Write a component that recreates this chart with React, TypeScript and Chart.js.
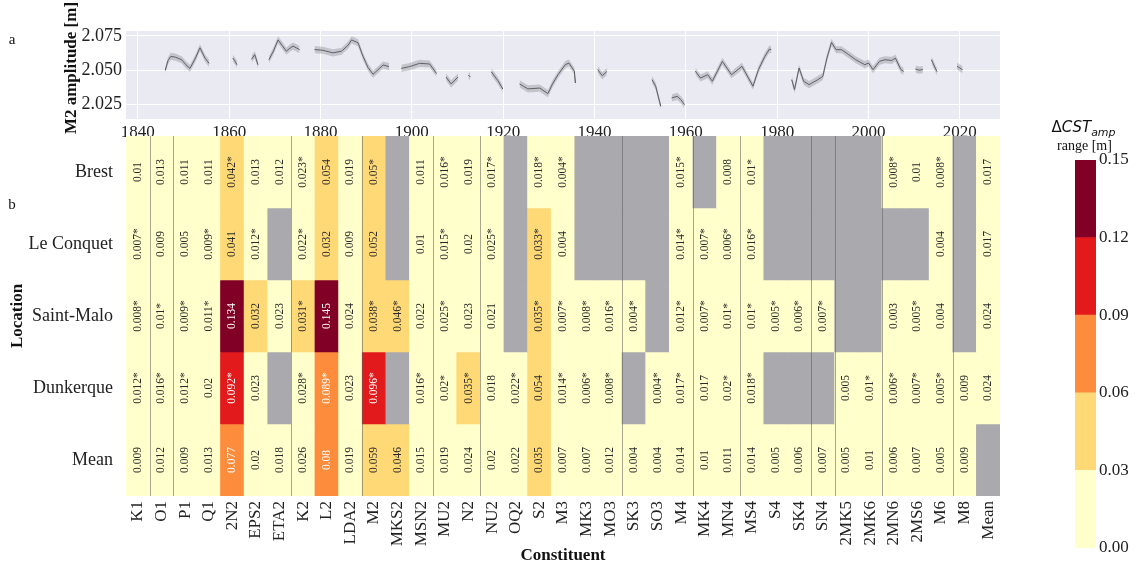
import React, { useEffect, useRef } from "react";
import { Chart, registerables } from "chart.js";
Chart.register(...registerables);

// ---------------- DATA ----------------
const constituents = ["K1","O1","P1","Q1","2N2","EPS2","ETA2","K2","L2","LDA2","M2","MKS2","MSN2","MU2","N2","NU2","OQ2","S2","M3","MK3","MO3","SK3","SO3","M4","MK4","MN4","MS4","S4","SK4","SN4","2MK5","2MK6","2MN6","2MS6","M6","M8","Mean"];
const locations = ["Brest", "Le Conquet", "Saint-Malo", "Dunkerque", "Mean"];

const brestVals = [0.01,0.013,0.011,0.011,0.042,0.013,0.012,0.023,0.054,0.019,0.05,null,0.011,0.016,0.019,0.017,null,0.018,0.004,null,null,null,null,0.015,null,0.008,0.01,null,null,null,null,null,0.008,0.01,0.008,null,0.017];
const brestSig  = [0,0,0,0,1,0,0,1,0,0,1,0,0,1,0,1,0,1,1,0,0,0,0,1,0,0,1,0,0,0,0,0,1,0,1,0,0];

const conquetVals = [0.007,0.009,0.005,0.009,0.041,0.012,null,0.022,0.032,0.009,0.052,null,0.01,0.015,0.02,0.025,null,0.033,0.004,null,null,null,null,0.014,0.007,0.006,0.016,null,null,null,null,null,null,null,0.004,null,0.017];
const conquetSig  = [1,0,0,1,0,1,0,1,0,0,0,0,0,1,0,1,0,1,0,0,0,0,0,1,1,1,1,0,0,0,0,0,0,0,0,0,0];

const maloVals = [0.008,0.01,0.009,0.011,0.134,0.032,0.023,0.031,0.145,0.024,0.038,0.046,0.022,0.025,0.023,0.021,null,0.035,0.007,0.008,0.016,0.004,null,0.012,0.007,0.01,0.01,0.005,0.006,0.007,null,null,0.003,0.005,0.004,null,0.024];
const maloSig  = [1,1,1,1,0,0,0,1,0,0,1,1,0,1,0,0,0,1,1,1,1,1,0,1,1,1,1,1,1,1,0,0,0,1,0,0,0];

const dunkVals = [0.012,0.016,0.012,0.02,0.092,0.023,null,0.028,0.089,0.023,0.096,null,0.016,0.02,0.035,0.018,0.022,0.054,0.014,0.006,0.008,null,0.004,0.017,0.017,0.02,0.018,null,null,null,0.005,0.01,0.006,0.007,0.005,0.009,0.024];
const dunkSig  = [1,1,1,0,1,0,0,1,1,0,1,0,1,1,1,0,1,0,1,1,1,0,1,1,0,1,1,0,0,0,0,1,1,1,1,0,0];

const meanVals = [0.009,0.012,0.009,0.013,0.077,0.02,0.018,0.026,0.08,0.019,0.059,0.046,0.015,0.019,0.024,0.02,0.022,0.035,0.007,0.007,0.012,0.004,0.004,0.014,0.01,0.011,0.014,0.005,0.006,0.007,0.005,0.01,0.006,0.007,0.005,0.009,null];
const meanSig  = [0,0,0,0,0,0,0,0,0,0,0,0,0,0,0,0,0,0,0,0,0,0,0,0,0,0,0,0,0,0,0,0,0,0,0,0,0];

// M2 amplitude time series (null = gap)
const ampYears = [
  1846.0,1846.6,1847.2,1848.2,1849.6,1850.5,1851.4,1852.5,1853.6,1854.7,1855.6, 1858,
  1860.8,1861.3,1861.7, 1863,
  1864.9,1865.6,1866.3, 1867.5,
  1868.7,1869.7,1870.7,1871.6,1872.5,1873.3,1874.0,1875.4, 1877,
  1878.7,1880.5,1882.7,1884.6,1886.0,1886.8,1888.2,1889.3,1890.4,1891.5,1893.7,1895.0, 1896.5,
  1897.7,1899.5,1901.7,1903.9,1905.4, 1906.5,
  1907.5,1908.6,1910.1, 1911.3,
  1912.4,1912.8, 1915,
  1917.4,1918.8,1919.9, 1921.5,
  1923.6,1925.4,1928.0,1929.8,1930.8,1932.0,1933.6,1934.4,1935.6,1935.8, 1938,
  1940.7,1941.7,1942.7, 1947,
  1952.6,1953.4,1954.5, 1955.7,
  1956.9,1958.1,1958.9,1959.7, 1961,
  1962.1,1963.2,1964.8,1965.8,1968.0,1970.0,1972.3,1974.7,1975.9,1977.3,1978.3,1978.7, 1981,
  1983.2,1983.8,1984.8,1985.8,1987.0,1988.9,1990.0,1990.9,1991.9,1992.9,1994.1,1995.7,1997.2,1999.2,2000.0,2001.0,2002.4,2003.6,2005.1,2005.9,2007.1,2007.7, 2009,
  2010.3,2011.1,2011.9, 2013,
  2013.8,2014.4,2015.0, 2017,
  2019.4,2020.6
];
const ampValues = [
  2.050,2.057,2.060,2.0595,2.0576,2.054,2.0513,2.058,2.0663,2.0588,2.055, null,
  2.0588,2.0565,2.054, null,
  2.058,2.0613,2.054, null,
  2.0576,2.064,2.072,2.068,2.0638,2.066,2.0675,2.065, null,
  2.065,2.0645,2.0626,2.0638,2.068,2.072,2.070,2.0601,2.052,2.047,2.0538,2.0526, null,
  2.0513,2.0526,2.055,2.0545,2.0476, null,
  2.045,2.040,2.045, null,
  2.0465,2.045, null,
  2.0488,2.0426,2.0364, null,
  2.040,2.0364,2.037,2.033,2.040,2.0467,2.054,2.0552,2.0492,2.0407, null,
  2.0504,2.046,2.049, null,
  2.0431,2.0383,2.0238, null,
  2.0298,2.031,2.0286,2.025, null,
  2.0492,2.0443,2.0467,2.042,2.0564,2.0467,2.0528,2.0383,2.0504,2.060,2.0653,2.065, null,
  2.0431,2.0359,2.0516,2.0419,2.0395,2.0431,2.0455,2.0588,2.0702,2.0649,2.0649,2.0612,2.0576,2.054,2.0552,2.0504,2.0564,2.0576,2.0571,2.0588,2.0504,2.0492, null,
  2.0508,2.0500,2.0504, null,
  2.0576,2.053,2.049, null,
  2.0528,2.0504
];
const ampBandHalf = 0.0026;

const yearTicks = [1840, 1860, 1880, 1900, 1920, 1940, 1960, 1980, 2000, 2020];
const ampTicks = [2.025, 2.05, 2.075];
const colorbarTicks = [0, 0.03, 0.06, 0.09, 0.12, 0.15];
const binColors = ["#ffffcc", "#fed976", "#fd8d3c", "#e31a1c", "#800026"];
const missingColor = "#a9a9ae";

// ---------------- LAYOUT ----------------
const W = 1136, H = 569;
const PLOT_L = 126, PLOT_R = 1000;
const TOP_T = 31, TOP_B = 119;
const HM_T = 136, HM_B = 496;
const CB_L = 1075, CB_R = 1096, CB_T = 160, CB_B = 548;
const SERIF = '"Liberation Serif", "Times New Roman", serif';
const SANS = '"DejaVu Sans", sans-serif';
const separatorAfter = [0, 1, 6, 9, 12, 14, 20, 23, 25, 28, 29, 31, 34];

const rowVals = [brestVals, conquetVals, maloVals, dunkVals, meanVals];
const rowSig = [brestSig, conquetSig, maloSig, dunkSig, meanSig];

function cellColor(v: number | null) {
  if (v == null) return missingColor;
  for (let i = 0; i < binColors.length; i++) {
    if (v < colorbarTicks[i + 1]) return binColors[i];
  }
  return binColors[binColors.length - 1];
}

export default function App() {
  const topRef = useRef<HTMLCanvasElement>(null);
  const hmRef = useRef<HTMLCanvasElement>(null);
  const cbRef = useRef<HTMLCanvasElement>(null);

  useEffect(() => {
    const charts: Chart[] = [];

    // ---------- Top panel ----------
    const line = ampYears.map((x, i) => ({ x, y: ampValues[i] }));
    const lower = ampYears.map((x, i) => ({ x, y: ampValues[i] == null ? null : (ampValues[i] as number) - ampBandHalf }));
    const upper = ampYears.map((x, i) => ({ x, y: ampValues[i] == null ? null : (ampValues[i] as number) + ampBandHalf }));

    const topPlugin = {
      id: "topDecor",
      beforeDraw(chart: any) {
        const { ctx, chartArea: a } = chart;
        ctx.save();
        ctx.fillStyle = "#eaeaf2";
        ctx.fillRect(a.left, a.top, a.right - a.left, a.bottom - a.top);
        ctx.restore();
      },
      afterDraw(chart: any) {
        const { ctx } = chart;
        ctx.save();
        ctx.fillStyle = "#111";
        ctx.font = `15px ${SERIF}`;
        ctx.textAlign = "center";
        ctx.textBaseline = "middle";
        ctx.fillText("a", 12, 40);
        ctx.font = `bold 17px ${SERIF}`;
        ctx.translate(72, 68);
        ctx.rotate(-Math.PI / 2);
        ctx.fillText("M2 amplitude [m]", 0, 0);
        ctx.restore();
      },
    };

    charts.push(
      new Chart(topRef.current!, {
        type: "line",
        data: {
          datasets: [
            { data: lower as any, borderWidth: 0, pointRadius: 0, fill: false, spanGaps: false, borderColor: "rgba(0,0,0,0)" },
            { data: upper as any, borderWidth: 0, pointRadius: 0, fill: "-1", spanGaps: false, borderColor: "rgba(0,0,0,0)", backgroundColor: "rgba(150,150,160,0.45)" },
            { data: line as any, borderWidth: 1, pointRadius: 0, fill: false, spanGaps: false, borderColor: "#333333" },
          ],
        },
        options: {
          responsive: false,
          animation: false,
          layout: { padding: { left: 0, top: TOP_T, right: W - PLOT_R, bottom: 0 } },
          plugins: { legend: { display: false }, tooltip: { enabled: false } },
          scales: {
            x: {
              type: "linear",
              min: 1837.4,
              max: 2028.8,
              grid: { color: "#ffffff", lineWidth: 1, drawTicks: false },
              border: { display: false },
              ticks: { font: { family: SERIF, size: 17 }, color: "#222", padding: 3, callback: (v: any) => String(v) },
              afterBuildTicks: (s: any) => { s.ticks = yearTicks.map((v) => ({ value: v })); },
              afterFit: (s: any) => { s.height = H - TOP_B; },
            },
            y: {
              min: 2.0145,
              max: 2.0785,
              grid: { color: "#ffffff", lineWidth: 1, drawTicks: false },
              border: { display: false },
              ticks: { font: { family: SERIF, size: 18 }, color: "#222", padding: 4, callback: (v: any) => Number(v).toFixed(3) },
              afterBuildTicks: (s: any) => { s.ticks = ampTicks.map((v) => ({ value: v })); },
              afterFit: (s: any) => { s.width = PLOT_L; },
            },
          },
        },
        plugins: [topPlugin],
      })
    );

    // ---------- Heatmap ----------
    const hmPlugin = {
      id: "hmDecor",
      afterDatasetsDraw(chart: any) {
        const { ctx, chartArea: a } = chart;
        ctx.save();
        ctx.font = `11.5px ${SERIF}`;
        ctx.textAlign = "center";
        ctx.textBaseline = "middle";
        rowVals.forEach((vals, r) => {
          const meta = chart.getDatasetMeta(r);
          meta.data.forEach((bar: any, i: number) => {
            const v = vals[i];
            if (v == null) return;
            const txt = String(v) + (rowSig[r][i] ? "*" : "");
            ctx.save();
            ctx.translate(bar.x, (bar.y + bar.base) / 2);
            ctx.rotate(-Math.PI / 2);
            ctx.fillStyle = v >= 0.06 ? "#ffffff" : "#2a2a2a";
            ctx.fillText(txt, 0, 0);
            ctx.restore();
          });
        });
        const meta0 = chart.getDatasetMeta(0);
        ctx.strokeStyle = "rgba(95,95,95,0.55)";
        ctx.lineWidth = 1;
        separatorAfter.forEach((i) => {
          const b = meta0.data[i];
          const x = Math.round(b.x + b.width / 2) + 0.5;
          ctx.beginPath();
          ctx.moveTo(x, a.top);
          ctx.lineTo(x, a.bottom);
          ctx.stroke();
        });
        ctx.restore();
      },
      afterDraw(chart: any) {
        const { ctx } = chart;
        ctx.save();
        ctx.fillStyle = "#111";
        ctx.font = `15px ${SERIF}`;
        ctx.textAlign = "center";
        ctx.textBaseline = "middle";
        ctx.fillText("b", 12, 205);
        ctx.font = `bold 17px ${SERIF}`;
        ctx.fillText("Constituent", (PLOT_L + PLOT_R) / 2, 556);
        ctx.translate(18, 316);
        ctx.rotate(-Math.PI / 2);
        ctx.fillText("Location", 0, 0);
        ctx.restore();
      },
    };

    charts.push(
      new Chart(hmRef.current!, {
        type: "bar",
        data: {
          labels: constituents,
          datasets: rowVals.map((vals, r) => ({
            label: locations[r],
            data: vals.map(() => [r, r + 1]) as any,
            backgroundColor: vals.map((v) => cellColor(v)),
            borderWidth: 0,
            grouped: false,
            barPercentage: 1,
            categoryPercentage: 1,
          })),
        },
        options: {
          responsive: false,
          animation: false,
          layout: { padding: { left: 0, top: HM_T, right: W - PLOT_R, bottom: 0 } },
          plugins: { legend: { display: false }, tooltip: { enabled: false } },
          scales: {
            x: {
              type: "category",
              grid: { display: false, drawTicks: false },
              border: { display: false },
              ticks: { autoSkip: false, minRotation: 90, maxRotation: 90, font: { family: SERIF, size: 17 }, color: "#222", padding: 5 },
              afterFit: (s: any) => { s.height = H - HM_B; },
            },
            y: {
              type: "linear",
              min: 0,
              max: 5,
              reverse: true,
              grid: { display: false, drawTicks: false },
              border: { display: false },
              ticks: { font: { family: SERIF, size: 18 }, color: "#222", padding: 13, callback: (v: any) => locations[Math.floor(Number(v))] },
              afterBuildTicks: (s: any) => { s.ticks = locations.map((_, i) => ({ value: i + 0.5 })); },
              afterFit: (s: any) => { s.width = PLOT_L; },
            },
          },
        },
        plugins: [hmPlugin],
      })
    );

    // ---------- Colorbar ----------
    const cbPlugin = {
      id: "cbDecor",
      afterDraw(chart: any) {
        const { ctx } = chart;
        ctx.save();
        ctx.fillStyle = "#111";
        ctx.textBaseline = "alphabetic";
        const cx = (CB_L + CB_R) / 2 - 2;
        ctx.font = `15px ${SANS}`;
        const wd = ctx.measureText("Δ").width;
        ctx.font = `italic 15px ${SANS}`;
        const wm = ctx.measureText("CST").width;
        ctx.font = `italic 11px ${SANS}`;
        const ws = ctx.measureText("amp").width;
        let x = cx - (wd + wm + ws) / 2;
        ctx.textAlign = "left";
        ctx.font = `15px ${SANS}`;
        ctx.fillText("Δ", x, 132);
        x += wd;
        ctx.font = `italic 15px ${SANS}`;
        ctx.fillText("CST", x, 132);
        x += wm;
        ctx.font = `italic 11px ${SANS}`;
        ctx.fillText("amp", x, 136);
        ctx.font = `14px ${SERIF}`;
        ctx.textAlign = "center";
        ctx.fillText("range [m]", cx + 1, 150);
        ctx.restore();
      },
    };

    charts.push(
      new Chart(cbRef.current!, {
        type: "bar",
        data: {
          labels: [""],
          datasets: binColors.map((c, i) => ({
            data: [[colorbarTicks[i], colorbarTicks[i + 1]]] as any,
            backgroundColor: c,
            borderWidth: 0,
            grouped: false,
            barPercentage: 1,
            categoryPercentage: 1,
          })),
        },
        options: {
          responsive: false,
          animation: false,
          layout: { padding: { left: CB_L, top: CB_T, right: W - CB_R - 44, bottom: H - CB_B } },
          plugins: { legend: { display: false }, tooltip: { enabled: false } },
          scales: {
            x: { display: false },
            y: {
              position: "right",
              min: 0,
              max: 0.15,
              grid: { display: false, drawTicks: false },
              border: { display: false },
              ticks: { font: { family: SERIF, size: 17 }, color: "#222", padding: 3, callback: (v: any) => Number(v).toFixed(2) },
              afterBuildTicks: (s: any) => { s.ticks = colorbarTicks.map((v) => ({ value: v })); },
              afterFit: (s: any) => { s.width = 44; },
            },
          },
        },
        plugins: [cbPlugin],
      })
    );

    return () => charts.forEach((c) => c.destroy());
  }, []);

  const cs: React.CSSProperties = { position: "absolute", left: 0, top: 0, width: W, height: H };
  return (
    <div style={{ position: "absolute", left: 0, top: 0, width: W, height: H, background: "#fff", overflow: "hidden" }}>
      <canvas ref={topRef} width={W} height={H} style={cs} />
      <canvas ref={hmRef} width={W} height={H} style={cs} />
      <canvas ref={cbRef} width={W} height={H} style={cs} />
    </div>
  );
}
